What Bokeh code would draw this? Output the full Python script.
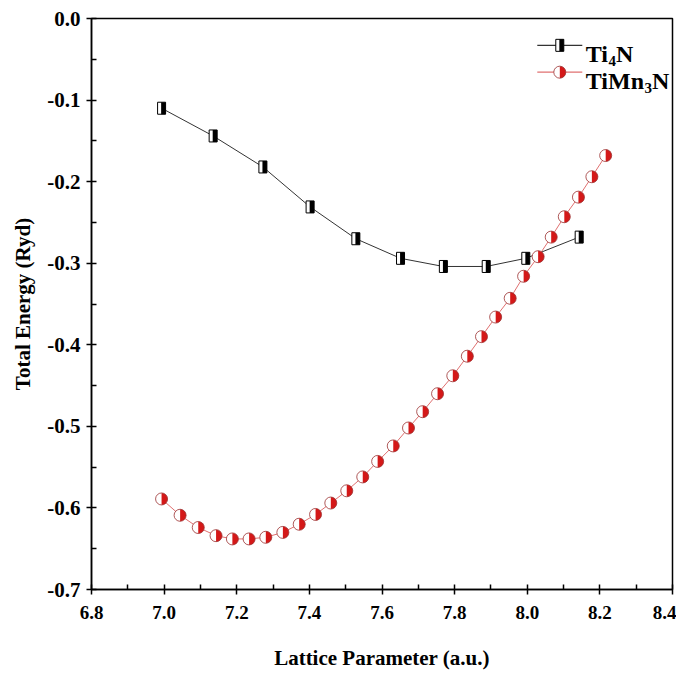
from bokeh.plotting import figure
from bokeh.models import FixedTicker, NumeralTickFormatter, Range1d, ColumnDataSource
from bokeh.transform import dodge
from bokeh.core.properties import value
from bokeh.embed import file_html
from bokeh.resources import INLINE
import math

# ---- data ----
ti4n_x = [6.993, 7.135, 7.272, 7.402, 7.528, 7.651, 7.769, 7.887, 7.996, 8.143]
ti4n_e = [-0.110, -0.144, -0.182, -0.231, -0.270, -0.294, -0.304, -0.304, -0.294, -0.268]

timn3n_x = [6.993, 7.044, 7.094, 7.143, 7.188, 7.234, 7.280, 7.327, 7.372, 7.417,
            7.459, 7.503, 7.547, 7.588, 7.631, 7.673, 7.712, 7.753, 7.795, 7.835,
            7.874, 7.913, 7.953, 7.990, 8.030, 8.066, 8.102, 8.141, 8.178, 8.216]
timn3n_e = [-0.589, -0.609, -0.624, -0.634, -0.638, -0.638, -0.636, -0.630, -0.620, -0.608,
            -0.594, -0.579, -0.562, -0.543, -0.524, -0.502, -0.482, -0.460, -0.438, -0.414,
            -0.390, -0.366, -0.343, -0.316, -0.292, -0.268, -0.243, -0.219, -0.194, -0.168]

x_ticks = [6.8, 7.0, 7.2, 7.4, 7.6, 7.8, 8.0, 8.2, 8.4]
x_minor = [6.9, 7.1, 7.3, 7.5, 7.7, 7.9, 8.1, 8.3]
y_ticks = [0.0, -0.1, -0.2, -0.3, -0.4, -0.5, -0.6, -0.7]
y_minor = [-0.05, -0.15, -0.25, -0.35, -0.45, -0.55, -0.65]

series_names = ["Ti", "TiMn"]
series_subs = ["4", "3"]

X0, X1 = 6.8, 8.4
Y0, Y1 = -0.7, 0.0

FONT = "Liberation Serif"
RED = "#d41818"
RED_EDGE = "#9a3030"

p = figure(width=676, height=672, output_backend="svg", toolbar_location=None,
           x_range=Range1d(X0, X1), y_range=Range1d(Y0, Y1),
           min_border_left=91, min_border_right=4, min_border_top=18, min_border_bottom=81)

p.xgrid.visible = False
p.ygrid.visible = False
p.outline_line_color = "black"
p.outline_line_width = 1.5
p.background_fill_color = "white"

for ax in (p.xaxis[0], p.yaxis[0]):
    ax.axis_line_width = 1.5
    ax.major_tick_line_width = 1.5
    ax.minor_tick_line_width = 1.5
    ax.major_tick_in = 5
    ax.major_tick_out = 5
    ax.minor_tick_in = 5
    ax.minor_tick_out = 0
    ax.major_label_text_font = FONT
    ax.major_label_text_font_style = "bold"
    ax.major_label_text_color = "black"
    ax.axis_label_text_font = FONT
    ax.axis_label_text_font_style = "bold"
    ax.axis_label_text_color = "black"
    ax.formatter = NumeralTickFormatter(format="0.0")

p.xaxis.ticker = FixedTicker(ticks=x_ticks, minor_ticks=x_minor)
p.yaxis.ticker = FixedTicker(ticks=y_ticks, minor_ticks=y_minor)
p.xaxis.major_label_text_font_size = "19px"
p.yaxis.major_label_text_font_size = "21px"
p.xaxis.major_label_standoff = 11
p.yaxis.major_label_standoff = 6
p.xaxis.axis_label = "Lattice Parameter (a.u.)"
p.yaxis.axis_label = "Total Energy (Ryd)"
p.xaxis.axis_label_text_font_size = "21px"
p.yaxis.axis_label_text_font_size = "21px"
p.xaxis.axis_label_standoff = 24
p.yaxis.axis_label_standoff = 9

px = (X1 - X0) / 581.0  # data units per screen pixel (horizontal)

src_a = ColumnDataSource(dict(x=ti4n_x, y=ti4n_e))
src_b = ColumnDataSource(dict(x=timn3n_x, y=timn3n_e))

# lines
p.line("x", "y", source=src_a, line_color="#333333", line_width=1)
p.line("x", "y", source=src_b, line_color="#e07070", line_width=1)


def half_square(src, xcol="x", ycol="y"):
    p.rect(xcol, ycol, source=src, width=8, height=12, width_units="screen", height_units="screen",
           fill_color="white", line_color="black", line_width=1)
    p.rect(dodge(xcol, 1.8 * px, range=p.x_range), ycol, source=src, width=4.5, height=12,
           width_units="screen", height_units="screen", fill_color="black", line_color=None)


def half_circle(src, xcol="x", ycol="y"):
    p.scatter(xcol, ycol, source=src, marker="circle", size=12, fill_color="white", line_color=None)
    p.wedge(xcol, ycol, source=src, radius=6, radius_units="screen",
            start_angle=-math.pi / 2, end_angle=math.pi / 2, fill_color=RED, line_color=None)
    p.scatter(xcol, ycol, source=src, marker="circle", size=12, fill_alpha=0,
              line_color=RED_EDGE, line_width=0.8)


half_square(src_a)
half_circle(src_b)

# ---- legend (built by hand for subscripts) ----
lx = X0 + 0.806 * (X1 - X0)
rows_y = [Y1 - 0.047 * (Y1 - Y0), Y1 - 0.094 * (Y1 - Y0)]
seg_half = 22.5 * px
p.segment(x0=[lx - seg_half], y0=[rows_y[0]], x1=[lx + seg_half], y1=[rows_y[0]],
          line_color="#333333", line_width=1.2)
p.segment(x0=[lx - seg_half], y0=[rows_y[1]], x1=[lx + seg_half], y1=[rows_y[1]],
          line_color="#e07070", line_width=1.2)
half_square(ColumnDataSource(dict(x=[lx], y=[rows_y[0]])))
half_circle(ColumnDataSource(dict(x=[lx], y=[rows_y[1]])))

main_w = [22.7, 58.7]
for i in range(2):
    p.text(x=[lx], y=[rows_y[i]], text=[series_names[i]], x_offset=26, y_offset=9,
           text_font=value(FONT), text_font_style="bold", text_font_size="24px",
           text_baseline="alphabetic", text_align="left", text_color="black")
    p.text(x=[lx], y=[rows_y[i]], text=[series_subs[i]], x_offset=26 + main_w[i], y_offset=16,
           text_font=value(FONT), text_font_style="bold", text_font_size="15px",
           text_baseline="alphabetic", text_align="left", text_color="black")
    p.text(x=[lx], y=[rows_y[i]], text=["N"], x_offset=26 + main_w[i] + 7.5, y_offset=9,
           text_font=value(FONT), text_font_style="bold", text_font_size="24px",
           text_baseline="alphabetic", text_align="left", text_color="black")

open("out.html", "w").write(file_html(p, INLINE))
